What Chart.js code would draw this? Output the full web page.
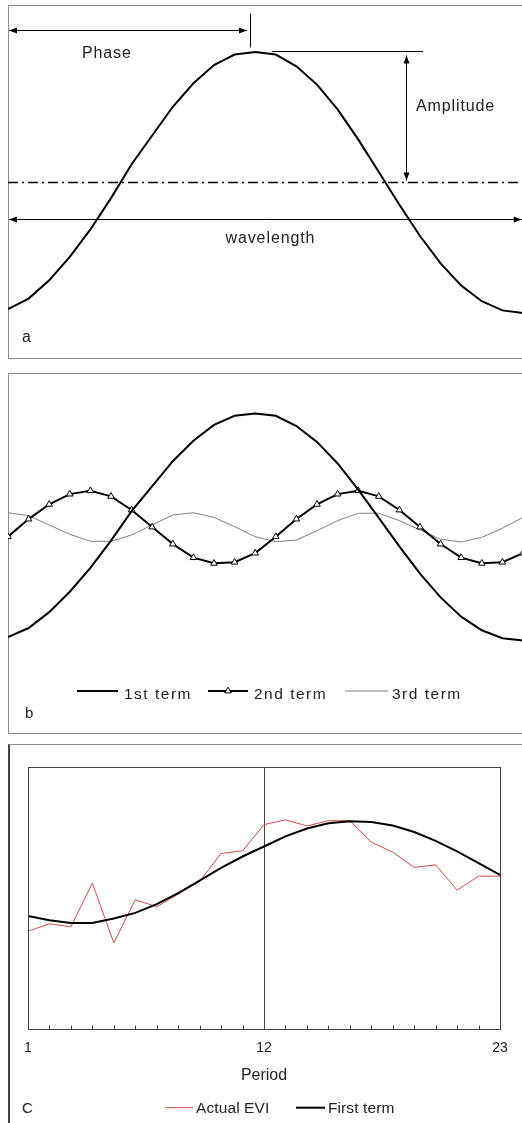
<!DOCTYPE html>
<html>
<head>
<meta charset="utf-8">
<script src="https://cdn.jsdelivr.net/npm/chart.js@4/dist/chart.umd.min.js"></script>
<style>
  body { margin: 0; width: 522px; height: 1123px; overflow: hidden; position: relative; background: #fff;
         font-family: 'Liberation Sans', Arial, sans-serif; color: #222; }
  .panel { position: absolute; box-sizing: border-box; border: 1px solid #8c8c8c; }
  canvas { position: absolute; }
  .tag { position: absolute; line-height: 1; }
</style>
</head>
<body>
<div class="panel" style="left:8px;top:5px;width:530px;height:354px"></div>
<div class="panel" style="left:8px;top:373px;width:530px;height:361px"></div>
<div class="panel" style="left:8px;top:744px;width:530px;height:400px;border-left:2px solid #444"></div>

<canvas id="chartA" width="515" height="353" style="left:8px;top:5px"></canvas>
<canvas id="chartB" width="515" height="360" style="left:8px;top:373px"></canvas>
<canvas id="chartC" width="514" height="379" style="left:8px;top:744px"></canvas>

<div class="tag" style="left:22px;top:329px;font-size:16px">a</div>
<div class="tag" style="left:25px;top:705px;font-size:15px">b</div>
<div class="tag" style="left:22px;top:1100px;font-size:15px">C</div>

<script>
// 数据: 谐波分量 (a, b 面板)
const samples = [0, 1, 2, 3, 4, 5, 6, 7, 8, 9, 10, 11, 12, 13, 14, 15, 16, 17, 18, 19, 20, 21, 22, 23, 24, 25];
const firstTerm = [-0.97, -0.89, -0.75, -0.57, -0.36, -0.12, 0.14, 0.36, 0.58, 0.76, 0.90, 0.98, 1.00,
                   0.98, 0.89, 0.75, 0.56, 0.33, 0.08, -0.17, -0.41, -0.62, -0.79, -0.91, -0.98, -1.00];
const secondTerm = [-0.085, 0.07, 0.20, 0.29, 0.32, 0.27, 0.15, 0.00, -0.15, -0.27, -0.32, -0.31, -0.23,
                    -0.085, 0.07, 0.20, 0.29, 0.32, 0.27, 0.15, 0.00, -0.15, -0.27, -0.32, -0.31, -0.23];
const thirdTerm = [0.126, 0.10, 0.018, -0.064, -0.126, -0.126, -0.07, 0.018, 0.106, 0.126, 0.085, 0.003, -0.085,
                   -0.13, -0.115, -0.033, 0.056, 0.121, 0.121, 0.056, -0.026, -0.108, -0.132, -0.091, -0.011, 0.085];
const termLabels = ['1st term', '2nd term', '3rd term'];

// 数据: EVI 时间序列 (c 面板)
const periods = [1, 2, 3, 4, 5, 6, 7, 8, 9, 10, 11, 12, 13, 14, 15, 16, 17, 18, 19, 20, 21, 22, 23];
const periodTicks = [1, 12, 23];
const actualEvi = [0.224, 0.241, 0.234, 0.334, 0.197, 0.296, 0.280, 0.309, 0.338, 0.402, 0.408, 0.468,
                   0.479, 0.465, 0.477, 0.477, 0.428, 0.405, 0.370, 0.376, 0.318, 0.350, 0.350];
const fittedFirst = [0.259, 0.249, 0.243, 0.243, 0.253, 0.266, 0.286, 0.311, 0.340, 0.369, 0.395, 0.418,
                     0.441, 0.459, 0.471, 0.476, 0.474, 0.466, 0.451, 0.431, 0.407, 0.380, 0.353];
const seriesLabels = ['Actual EVI', 'First term'];

const FONT = "'Liberation Sans', Arial, sans-serif";
Chart.defaults.font.family = FONT;
Chart.defaults.color = '#222';

const xy = (xs, ys) => xs.map((x, i) => ({ x, y: ys[i] }));

// 带双箭头的线段
function arrowHead(ctx, x, y, ux, uy) {
    const len = 8, half = 3;
    ctx.beginPath();
    ctx.moveTo(x, y);
    ctx.lineTo(x - ux * len - uy * half, y - uy * len + ux * half);
    ctx.lineTo(x - ux * len + uy * half, y - uy * len - ux * half);
    ctx.closePath();
    ctx.fill();
}
function arrow(ctx, x0, y0, x1, y1) {
    const d = Math.hypot(x1 - x0, y1 - y0), ux = (x1 - x0) / d, uy = (y1 - y0) / d;
    ctx.beginPath(); ctx.moveTo(x0, y0); ctx.lineTo(x1, y1); ctx.stroke();
    arrowHead(ctx, x1, y1, ux, uy);
    arrowHead(ctx, x0, y0, -ux, -uy);
}
function seg(ctx, x0, y0, x1, y1) {
    ctx.beginPath(); ctx.moveTo(x0, y0); ctx.lineTo(x1, y1); ctx.stroke();
}

// a 面板的标注 (相位, 振幅, 波长)
const waveNotes = {
    id: 'waveNotes',
    afterDatasetsDraw(chart) {
        const { ctx, chartArea, scales: { x, y } } = chart;
        const px = v => x.getPixelForValue(v);
        const py = v => Math.round(y.getPixelForValue(v)) + 0.5;
        ctx.save();
        ctx.strokeStyle = '#000';
        ctx.fillStyle = '#000';

        // 中线 (点划线)
        ctx.lineWidth = 1.5;
        ctx.setLineDash([10, 4, 2, 4]);
        seg(ctx, chartArea.left, py(0), chartArea.right, py(0));
        ctx.setLineDash([]);

        ctx.lineWidth = 1;
        arrow(ctx, px(0.05), py(1.172), px(11.6), py(1.172));
        seg(ctx, Math.round(px(11.75)) + 0.5, py(1.30), Math.round(px(11.75)) + 0.5, py(1.04));

        seg(ctx, px(12.8), py(1.008), px(20.15), py(1.008));
        const ax = Math.round(px(19.3)) + 0.5;
        arrow(ctx, ax, py(0.977), ax, py(0.019));

        arrow(ctx, px(0.05), py(-0.282), px(24.94), py(-0.282));

        ctx.fillStyle = '#222';
        ctx.font = '16px ' + FONT;
        ctx.letterSpacing = '0.9px';
        ctx.textBaseline = 'alphabetic';
        ctx.textAlign = 'center';
        ctx.fillText('Phase', px(4.8), y.getPixelForValue(0.954));
        ctx.fillText('wavelength', px(12.74), y.getPixelForValue(-0.464));
        ctx.textAlign = 'left';
        ctx.fillText('Amplitude', px(19.8), y.getPixelForValue(0.544));
        ctx.restore();
    }
};

// 图例: 线段 + 文字, 样式取自数据集
const lineLegend = {
    id: 'lineLegend',
    afterDraw(chart, args, opts) {
        const { ctx } = chart;
        ctx.save();
        opts.items.forEach((it, i) => {
            const ds = chart.data.datasets[i];
            ctx.strokeStyle = ds.borderColor;
            ctx.lineWidth = ds.borderWidth;
            seg(ctx, it.x0, opts.y, it.x1, opts.y);
            if (ds.pointRadius > 0) {
                const cx = (it.x0 + it.x1) / 2, r = ds.pointRadius;
                ctx.beginPath();
                ctx.moveTo(cx, opts.y - r);
                ctx.lineTo(cx + r * 0.866, opts.y + r * 0.5);
                ctx.lineTo(cx - r * 0.866, opts.y + r * 0.5);
                ctx.closePath();
                ctx.fillStyle = ds.pointBackgroundColor;
                ctx.fill();
                ctx.lineWidth = ds.pointBorderWidth;
                ctx.strokeStyle = ds.pointBorderColor;
                ctx.stroke();
            }
            ctx.fillStyle = '#222';
            ctx.font = opts.font;
            ctx.letterSpacing = opts.spacing;
            ctx.textAlign = 'left';
            ctx.textBaseline = 'alphabetic';
            ctx.fillText(ds.label, it.tx, opts.baseline);
        });
        ctx.restore();
    }
};

// c 面板: 绘图区边框与内侧刻度
const plotFrame = {
    id: 'plotFrame',
    afterDraw(chart) {
        const { ctx, chartArea: a, scales: { x } } = chart;
        ctx.save();
        ctx.strokeStyle = '#444';
        ctx.lineWidth = 1;
        ctx.strokeRect(Math.round(a.left) + 0.5, Math.round(a.top) + 0.5,
                       Math.round(a.right - a.left), Math.round(a.bottom - a.top));
        const yb = Math.round(a.bottom) + 0.5;
        periods.forEach(p => {
            const xp = Math.round(x.getPixelForValue(p)) + 0.5;
            seg(ctx, xp, yb, xp, yb - 4);
        });
        ctx.restore();
    }
};

function waveOptions(yMin, yMax, plugins) {
    return {
        responsive: false,
        animation: false,
        events: [],
        layout: { padding: 0, autoPadding: false },
        scales: {
            x: { type: 'linear', min: 0, max: 25, display: false },
            y: { min: yMin, max: yMax, display: false }
        },
        plugins: Object.assign({ legend: { display: false }, tooltip: { enabled: false } }, plugins)
    };
}

// a: 单一谐波
new Chart(document.getElementById('chartA'), {
    type: 'line',
    data: {
        datasets: [
            { data: xy(samples, firstTerm), borderColor: '#000', borderWidth: 2, pointRadius: 0, tension: 0 }
        ]
    },
    options: waveOptions(-1.345, 1.360, {}),
    plugins: [waveNotes]
});

// b: 前三个谐波分量
new Chart(document.getElementById('chartB'), {
    type: 'line',
    data: {
        datasets: [
            { label: termLabels[0], data: xy(samples, firstTerm), borderColor: '#000', borderWidth: 2,
              pointRadius: 0, tension: 0, order: 0 },
            { label: termLabels[1], data: xy(samples, secondTerm), borderColor: '#000', borderWidth: 2,
              pointStyle: 'triangle', pointRadius: 3.8, pointBackgroundColor: '#fff',
              pointBorderColor: '#000', pointBorderWidth: 1, tension: 0, order: 1 },
            { label: termLabels[2], data: xy(samples, thirdTerm), borderColor: '#808080', borderWidth: 1,
              pointRadius: 0, tension: 0, order: 2 }
        ]
    },
    options: waveOptions(-1.815, 1.357, {
        lineLegend: {
            y: 318, baseline: 325.5, font: '15.5px ' + FONT, spacing: '1.5px',
            items: [{ x0: 69, x1: 110, tx: 116 }, { x0: 200, x1: 240, tx: 246 }, { x0: 337, x1: 380, tx: 384 }]
        }
    }),
    plugins: [lineLegend]
});

// c: 实测 EVI 与第一谐波
new Chart(document.getElementById('chartC'), {
    type: 'line',
    data: {
        datasets: [
            { label: seriesLabels[0], data: xy(periods, actualEvi), borderColor: '#c0504d', borderWidth: 1,
              pointRadius: 0, tension: 0, order: 1 },
            { label: seriesLabels[1], data: xy(periods, fittedFirst), borderColor: '#000', borderWidth: 2,
              pointRadius: 0, tension: 0, order: 0 }
        ]
    },
    options: {
        responsive: false,
        animation: false,
        events: [],
        layout: { padding: { left: 20, right: 22, top: 23, bottom: 38 }, autoPadding: false },
        scales: {
            x: {
                type: 'linear', min: 1, max: 23,
                afterBuildTicks: axis => { axis.ticks = periodTicks.map(v => ({ value: v })); },
                grid: {
                    drawTicks: false,
                    lineWidth: 1,
                    color: c => (c.tick && c.tick.value === 12 ? '#444' : 'rgba(0,0,0,0)')
                },
                border: { display: true, color: '#444', width: 1 },
                ticks: { padding: 11, font: { size: 14 }, color: '#222', maxRotation: 0, autoSkip: false },
                title: { display: true, text: 'Period', font: { size: 16 }, color: '#222',
                         padding: { top: -2, bottom: 0 } }
            },
            y: { min: 0, max: 0.6, display: false }
        },
        plugins: {
            legend: { display: false },
            tooltip: { enabled: false },
            lineLegend: {
                y: 363.7, baseline: 369.3, font: '15.5px ' + FONT, spacing: '0.1px',
                items: [{ x0: 157, x1: 185, tx: 188 }, { x0: 288, x1: 317, tx: 320 }]
            }
        }
    },
    plugins: [plotFrame, lineLegend]
});
</script>
</body>
</html>
